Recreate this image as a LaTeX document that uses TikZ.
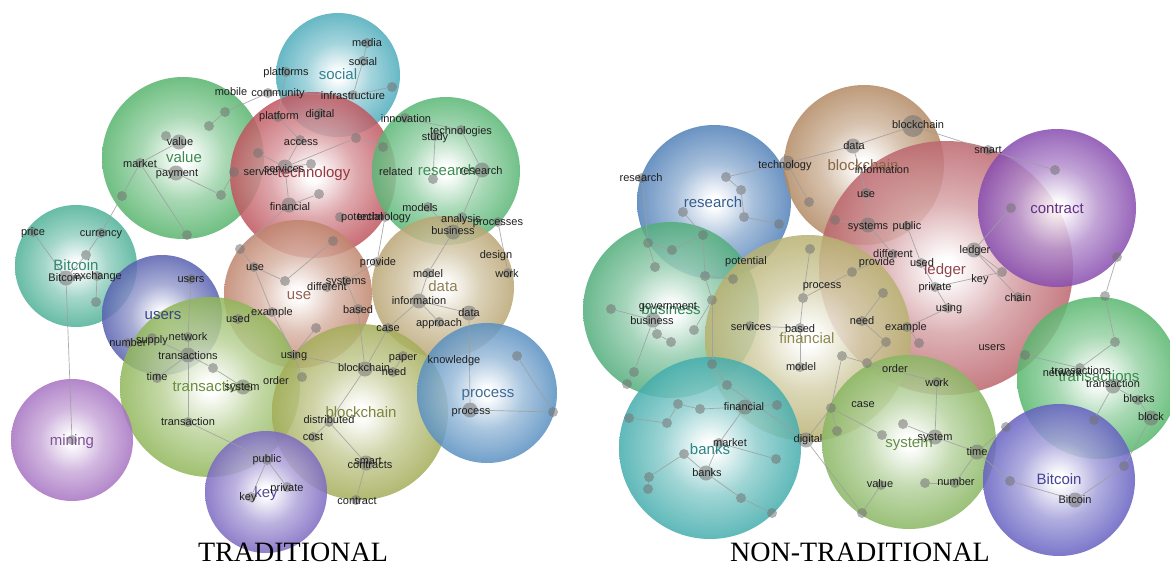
\documentclass[tikz,border=0pt]{standalone}
\usepackage{fontspec}
\setmainfont{Liberation Sans}
\newfontfamily\titlefont{Liberation Serif}
\colorlet{bubc}{gray}
\pgfdeclareradialshading[bubc]{bubsh}{\pgfpoint{0bp}{0bp}}{color(0bp)=(white);color(2bp)=(white);color(13bp)=(bubc!55!white);color(25bp)=(bubc!92!white);color(35bp)=(bubc!90!black);color(50bp)=(bubc!90!black)}
\newcommand\bub[4]{\colorlet{bubc}{#4}\shade[shading=bubsh,fill opacity=0.85] (#1,#2) circle (#3);}
% colours
\definecolor{cSocial}{RGB}{62,165,182}
\definecolor{cValue}{RGB}{72,174,96}
\definecolor{cTech}{RGB}{186,70,80}
\definecolor{cResL}{RGB}{74,176,104}
\definecolor{cData}{RGB}{180,158,104}
\definecolor{cUse}{RGB}{186,122,96}
\definecolor{cBtcL}{RGB}{62,170,142}
\definecolor{cUsers}{RGB}{72,82,168}
\definecolor{cTrL}{RGB}{134,176,74}
\definecolor{cBcL}{RGB}{156,166,74}
\definecolor{cProc}{RGB}{74,134,188}
\definecolor{cMin}{RGB}{158,102,188}
\definecolor{cKey}{RGB}{112,92,188}
\definecolor{cResR}{RGB}{66,118,178}
\definecolor{cBcR}{RGB}{172,128,86}
\definecolor{cLed}{RGB}{182,88,96}
\definecolor{cCon}{RGB}{124,60,168}
\definecolor{cBus}{RGB}{66,166,112}
\definecolor{cFin}{RGB}{178,170,100}
\definecolor{cBank}{RGB}{52,166,166}
\definecolor{cSys}{RGB}{126,176,84}
\definecolor{cTrR}{RGB}{72,176,96}
\definecolor{cBtcR}{RGB}{88,82,188}
\tikzset{
  dot/.style={circle,fill=black!55,fill opacity=0.55,draw=none,minimum size=10pt,inner sep=0pt},
  bdot/.style={dot,minimum size=15pt},
  hdot/.style={dot,minimum size=22pt},
  edge/.style={draw=black!38,line width=0.7pt,draw opacity=0.85},
  word/.style={font=\fontsize{11}{11}\selectfont,text=black!88,inner sep=0pt,text height=8pt,text depth=2pt},
  clab/.style={font=\fontsize{15}{15}\selectfont,inner sep=0pt,text height=11pt,text depth=3pt},
  title/.style={font=\titlefont\fontsize{28}{28}\selectfont,inner sep=0pt,text height=19pt,text depth=0pt}
}
\begin{document}
\begin{tikzpicture}[x=1pt,y=-1pt]
\fill[white] (0,0) rectangle (1170,565);
\useasboundingbox (0,0) rectangle (1170,565);
% ---------- left bubbles
\bub{183}{158}{81}{cValue}
\bub{338}{75}{62}{cSocial}
\bub{313}{175}{83}{cTech}
\bub{446}{171}{74}{cResL}
\bub{76}{266}{61}{cBtcL}
\bub{162}{315}{60}{cUsers}
\bub{298}{294}{74}{cUse}
\bub{443}{287}{71}{cData}
\bub{210}{387}{90}{cTrL}
\bub{360}{412}{88}{cBcL}
\bub{487}{393}{70}{cProc}
\bub{72}{440}{61}{cMin}
\bub{266}{492}{61}{cKey}
% ---------- right bubbles
\bub{714}{202}{77}{cResR}
\bub{864}{165}{80}{cBcR}
\bub{946}{268}{127}{cLed}
\bub{1057}{208}{79}{cCon}
\bub{671}{310}{88}{cBus}
\bub{808}{338}{103}{cFin}
\bub{710}{448}{91}{cBank}
\bub{909}{442}{87}{cSys}
\bub{1098}{378}{81}{cTrR}
\bub{1059}{480}{76}{cBtcR}
% ---------- dots left
\foreach \n/\x/\y in {la/367/43,lb/363/61,lc/353/95,ld/392/87,le/286/72,lf/268/93,lg/225/112,lh/209/126,li/278/117,lj/320/113,lk/300/140,lm/258/153,ln/234/172,lo/311/164,lp/356/138,lq/383/147,ls/319/194,lt/240/249,lv/166/136,lw/140/163,ly/221/195,lz/122/196,lA/187/235,lB/101/233,lC/86/255,lE/33/232,lF/97/276,lG/96/302,lH/72/440,lI/191/279,lJ/188/337,lK/152/338,lL/128/343,lN/157/378,lO/213/368,lQ/188/422,lR/267/460,lS/251/497,lT/287/487,lU/254/267,lV/285/281,lW/272/312,lX/238/319,lY/316/328,lZ/294/355,m1/302/377,m2/346/281,m3/327/287,m4/358/309,m5/377/262,m7/393/372,m8/403/356,m9/388/328,m12/439/322,m13/428/273,m16/553/412,m17/517/356,m18/329/422,m19/313/437,m21/356/500,m22/340/217,m23/385/217,m25/428/207,m27/435/136,m28/461/130,m29/405/118,m30/433/179,m31/462/217,m33/498/222,m34/508/273,m36/333/241}
  \node[dot] (\n) at (\x,\y) {};
\foreach \n/\x/\y in {ll/285/167,lr/289/205,lu/179/142,lx/176/173,lD/66/278,lM/188/355,lP/243/387,m6/365/369,m10/419/301,m11/469/313,m15/470/410,m20/366/463,m26/482/170,m32/453/232}
  \node[bdot] (\n) at (\x,\y) {};
% ---------- dots right
\foreach \n/\x/\y in {ra/642/178,rb/726/177,rc/741/190,rd/744/217,re/779/224,rg/809/202,rh/683/212,ri/703/235,rj/672/250,rk/648/243,rl/655/267,rm/705/276,rn/733/279,ro/712/300,rp/611/309,rr/657/334,rs/671/342,rt/694/330,ru/634/372,rv/627/384,rw/712/364,rx/727/385,rz/862/513,rA/803/298,rB/810/249,rC/852/272,rD/893/254,rE/800/328,rF/750/326,rG/800/367,rH/883/293,rI/862/321,rJ/886/342,rK/907/327,rL/919/343,rM/842/356,rN/867/363,rO/831/408,rQ/777/405,rR/678/404,rS/700/409,rT/629/418,rU/667/423,rV/719/443,rW/684/454,rY/649/477,rZ/648/489,s1/776/459,s2/741/498,s3/772/513,s6/988/150,s7/1055/170,s8/866/193,s10/835/220,s11/907/226,s12/921/263,s13/935/287,s14/1002/272,s16/1011/208,s17/1018/297,s18/948/308,s19/1117/257,s20/1105/296,s21/1115/342,s22/1080/368,s24/1094/420,s26/1124/466,s28/1010/481,s31/903/424,s32/1006/427,s33/955/483,s34/925/483,s35/1025/355,s36/937/382,s37/881/485,s38/882/435,s40/837/431,s42/1138/400}
  \node[dot] (\n) at (\x,\y) {};
\foreach \n/\x/\y in {rf/787/163,rq/653/320,ry/806/440,rP/745/407,rX/706/473,s5/853/146,s9/868/225,s15/974/250,s23/1113/386,s25/1151/418,s27/1075/500,s29/977/452,s30/935/437}
  \node[bdot] (\n) at (\x,\y) {};
\node[hdot] (s4) at (913,126) {};
% ---------- edges left
\foreach \a/\b in {la/lb,lb/lc,lc/ld,lf/lc,le/li,lf/lg,lg/lh,li/lk,lk/ll,ln/ll,lm/ll,ll/lo,ll/lp,lp/lq,ll/lr,lr/ls,lr/lt,lt/lU,ln/ly,ly/lx,lx/lw,lw/lu,lu/lv,lw/lz,lz/lB,lB/lC,lC/lD,lw/lA,lE/lD,lD/lH,lD/lF,lF/lG,lI/lJ,lJ/lM,lM/lQ,lK/lM,lL/lK,lM/lN,lM/lO,lO/lP,lQ/lR,lR/lS,lR/lT,lU/lV,lU/lW,lW/lZ,lX/lW,lY/lZ,lZ/m6,lZ/m1,m2/m3,m2/m5,m2/m4,m4/m6,m5/m23,m22/m23,m9/m6,m9/m10,m10/m11,m10/m12,m10/m13,m13/m32,m32/m31,m31/m26,m31/m33,m26/m28,m27/m30,m29/m28,m11/m15,m15/m16,m16/m17,m6/m18,m18/m19,m18/m20,m20/m21,m8/m7,m7/m6,m33/m34,m25/m32,m36/lV}
  \draw[edge] (\a) -- (\b);
% ---------- edges right
\foreach \a/\b in {rf/rb,rb/rc,rc/rd,rd/re,rf/rg,rf/s5,s5/s4,s4/s6,s6/s7,s5/s8,s8/s9,s9/s10,s9/rD,s11/s12,s12/s13,s13/s14,s14/s15,s15/s16,s15/s17,s13/s18,s18/rK,rK/rL,rI/rH,rI/rJ,rJ/rN,rN/s36,s36/s30,rM/rN,rA/rB,rA/rC,rC/rD,rA/rE,rE/rF,rE/rG,ra/rk,rk/rl,rh/ri,ri/rj,rj/rk,ri/rm,rm/rn,rm/ro,ro/rw,rw/rx,rx/ry,ry/rz,rp/rq,rq/rr,rr/rs,rq/ru,ru/rv,rt/ro,s35/s22,s19/s20,s20/s21,s21/s22,s22/s23,s23/s24,s23/s42,s42/s25,s25/s26,s26/s27,s27/s28,s28/s29,s29/s30,s30/s31,s29/s32,s29/s33,s33/s34,rO/rM,rO/s38,s37/rz,rP/rQ,rR/rS,rS/rP,rT/rU,rU/rR,rP/rV,rV/rX,rX/s2,s2/s3,rV/s1,rW/rY,rY/rZ,rW/rX,ry/rO,rO/s40}
  \draw[edge] (\a) -- (\b);
% ---------- cluster labels left
\foreach \t/\x/\y/\c [count=\i] in {social/338/75/cSocial,value/184/158/cValue,technology/314/173/cTech,research/447/171/cResL,data/443/287/cData,use/299/295/cUse,Bitcoin/76/266/cBtcL,users/163/315/cUsers,transactions/213/387/cTrL,blockchain/361/413/cBcL,process/488/393/cProc,mining/72/441/cMin,key/266/493/cKey}
  \node[clab,text=\c!80!black] (cl\i) at (\x,\y) {\t};
% ---------- cluster labels right
\foreach \t/\x/\y/\c [count=\i] in {research/713/203/cResR,blockchain/863/166/cBcR,ledger/945/270/cLed,contract/1057/209/cCon,business/671/310/cBus,financial/807/339/cFin,banks/710/450/cBank,system/909/443/cSys,transactions/1099/377/cTrR,Bitcoin/1059/480/cBtcR}
  \node[clab,text=\c!80!black] (cr\i) at (\x,\y) {\t};
% ---------- words left
\foreach \t/\x/\y [count=\i] in {media/367/43,social/363/62,platforms/286/72,mobile/231/92,community/278/93,infrastructure/353/96,digital/320/114,platform/279/116,innovation/406/119,technologies/461/131,study/435/137,access/301/142,value/180/142,market/140/164,payment/177/173,service/261/172,services/284/169,related/396/172,research/481/171,financial/290/207,models/420/208,potential/362/217,technology/384/217,analysis/461/219,processes/498/222,business/453/231,price/33/232,currency/101/233,Bitcoin/65/278,exchange/98/276,design/496/255,provide/378/262,work/507/274,model/428/274,users/191/279,use/255/267,systems/346/281,different/327/287,information/419/301,based/358/310,example/272/312,used/238/319,data/469/313,approach/439/323,case/388/328,number/128/343,supply/152/340,network/188/337,transactions/188/356,using/294/355,paper/403/357,knowledge/454/360,blockchain/364/368,need/394/372,time/157/377,system/242/387,order/276/381,process/471/411,distributed/329/420,transaction/188/422,cost/313/437,public/267/459,smart/368/461,contracts/370/465,private/287/488,key/248/497,contract/357/501}
  \node[word] (wl\i) at (\x,\y) {\t};
% ---------- words right
\foreach \t/\x/\y [count=\i] in {blockchain/918/125,smart/988/150,data/854/146,technology/785/165,information/882/170,research/641/178,use/866/194,systems/868/226,public/907/226,ledger/975/250,different/893/254,provide/877/262,used/922/263,key/980/279,private/935/287,chain/1018/298,using/949/308,potential/746/261,process/822/285,government/668/306,business/652/321,services/751/327,based/800/329,need/862/321,example/906/327,users/992/347,model/801/367,order/895/369,work/937/383,network/1062/373,transactions/1081/371,transaction/1113/384,blocks/1139/399,block/1151/417,financial/744/407,case/863/404,digital/808/439,system/935/437,market/730/443,time/977/452,banks/707/473,value/880/484,number/956/482,Bitcoin/1075/500}
  \node[word] (wr\i) at (\x,\y) {\t};
% ---------- titles
\node[title] (t1) at (293,552) {TRADITIONAL};
\node[title] (t2) at (860,552) {NON-TRADITIONAL};
\end{tikzpicture}
\end{document}
